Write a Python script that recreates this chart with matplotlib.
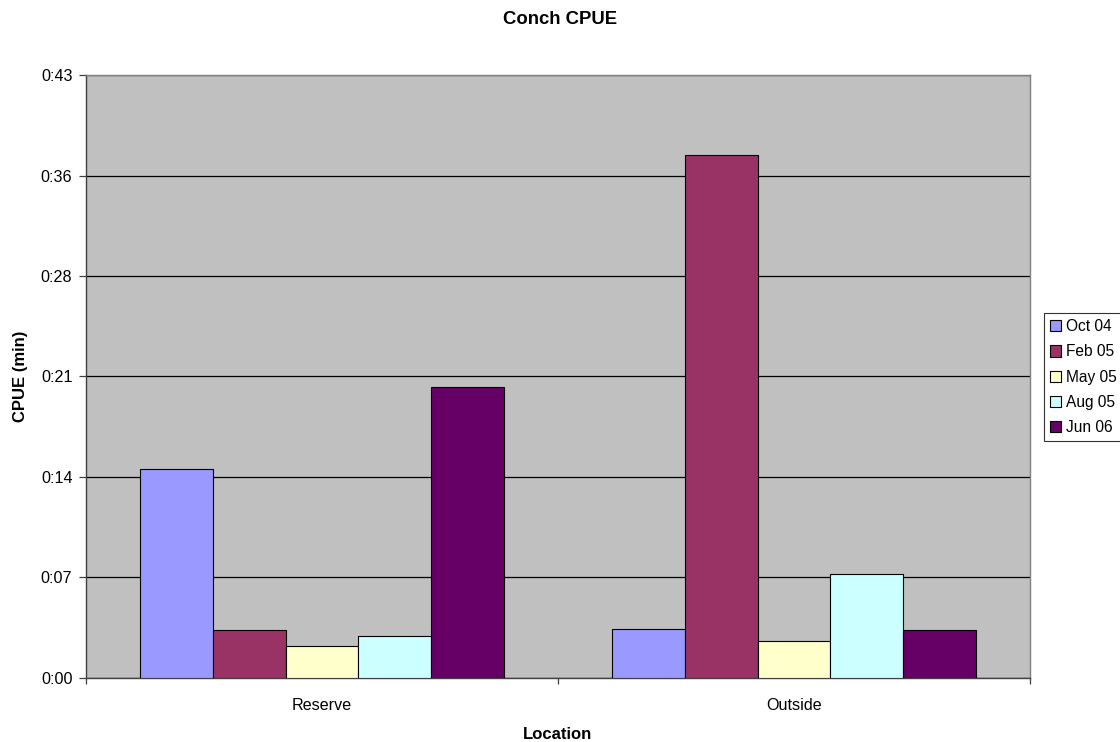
import numpy as np
import matplotlib.pyplot as plt
from matplotlib.ticker import FixedLocator, FuncFormatter

plt.rcParams['font.family'] = ['Liberation Sans', 'DejaVu Sans']

# Data: CPUE in minutes
locations = ['Reserve', 'Outside']
series_names = ['Oct 04', 'Feb 05', 'May 05', 'Aug 05', 'Jun 06']
oct04 = [15.0, 3.51]
feb05 = [3.42, 37.46]
may05 = [2.27, 2.66]
aug05 = [2.99, 7.44]
jun06 = [20.84, 3.41]
series_values = [oct04, feb05, may05, aug05, jun06]
colors = ['#9999FF', '#993366', '#FFFFCC', '#CCFFFF', '#660066']

# y ticks are Excel time steps of 0.005 day (7.2 min), labels truncated to whole minutes
y_ticks = [0.0, 7.2, 14.4, 21.6, 28.8, 36.0, 43.2]

fig = plt.figure(figsize=(11.2, 7.42), dpi=100)
ax = fig.add_axes([0.0768, 0.0863, 0.8428, 0.8126])
ax.set_facecolor('#C0C0C0')

x = np.arange(len(locations))
bar_w = 0.1542
n = len(series_names)
for i, (name, vals, c) in enumerate(zip(series_names, series_values, colors)):
    offs = (i - (n - 1) / 2) * bar_w
    ax.bar(x + offs, vals, width=bar_w, color=c, edgecolor='black',
           linewidth=0.8, label=name, zorder=3)

ax.set_xlim(-0.5, len(locations) - 0.5)
ax.set_ylim(0, 43.2)
ax.yaxis.set_major_locator(FixedLocator(y_ticks))
ax.yaxis.set_major_formatter(FuncFormatter(lambda v, p: f"0:{int(v + 1e-6):02d}"))
ax.grid(axis='y', color='black', linewidth=0.9, zorder=1)

ax.set_xticks(x)
ax.set_xticklabels(locations)
ax.set_xticks(np.arange(-0.5, len(locations)), minor=True)
ax.tick_params(axis='x', which='major', length=0, pad=14.5, labelsize=11.6)
ax.tick_params(axis='x', which='minor', length=4.5, color='#404040', width=0.9)
ax.tick_params(axis='y', length=4.8, color='#404040', width=0.9, labelsize=11.6, pad=5)

for s in ['top', 'right']:
    ax.spines[s].set_color('#808080')
    ax.spines[s].set_linewidth(1.0)
for s in ['left', 'bottom']:
    ax.spines[s].set_color('#404040')
    ax.spines[s].set_linewidth(1.0)

ax.set_xlabel('Location', fontsize=12, fontweight='bold', labelpad=10)
ax.set_ylabel('CPUE (min)', fontsize=12, fontweight='bold', labelpad=9.5)
fig.text(0.5, 0.974, 'Conch CPUE', fontsize=13.3, fontweight='bold',
         ha='center', va='center')

leg = fig.legend(loc='upper left', bbox_to_anchor=(0.9321, 0.5782), fontsize=11.2,
                 frameon=True, fancybox=False, edgecolor='black',
                 handlelength=0.72, handleheight=0.72, handletextpad=0.32,
                 labelspacing=0.66, borderpad=0.4, borderaxespad=0)
leg.get_frame().set_linewidth(0.8)

fig.savefig('out.png', dpi=100)
